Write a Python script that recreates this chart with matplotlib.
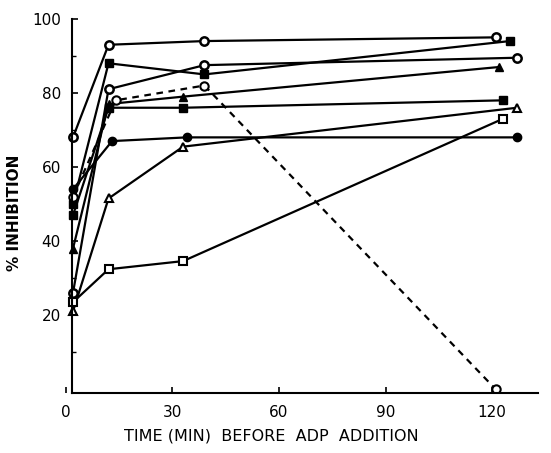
import matplotlib.pyplot as plt

# minutes before ADP addition / % inhibition, one list pair per curve
t_a = [2, 12, 39, 121]
v_a = [68, 93, 94, 95]
t_b = [2, 12, 39, 125]
v_b = [50, 88, 85, 94]
t_c = [2, 12, 39, 127]
v_c = [26, 81, 87.5, 89.5]
t_d = [2, 12, 33, 122]
v_d = [38, 77, 79, 87]
t_e = [2, 12, 33, 123]
v_e = [47, 76, 76, 78]
t_f = [2, 12, 33, 127]
v_f = [21, 51.5, 65.5, 76]
t_g = [2, 13, 34, 127]
v_g = [54, 67, 68, 68]
t_h = [2, 12, 33, 123]
v_h = [23.5, 32.4, 34.6, 73]
t_i = [2, 14, 39, 121]
v_i = [52, 78, 82, 0]

xticks = [0, 30, 60, 90, 120]
yticks = [20, 40, 60, 80, 100]

fig = plt.figure(figsize=(5.51, 4.53), dpi=100)
ax = fig.add_axes([0.097, 0.1325, 0.88, 0.83])

lw = 1.6
ms = 6
ax.plot(t_a, v_a, '-o', color='black', lw=lw, ms=ms, mfc='white', mew=1.8)
ax.plot(t_b, v_b, '-s', color='black', lw=lw, ms=ms, mfc='black')
ax.plot(t_c, v_c, '-o', color='black', lw=lw, ms=ms, mfc='white', mew=1.8)
ax.plot(t_d, v_d, '-^', color='black', lw=lw, ms=ms, mfc='black')
ax.plot(t_e, v_e, '-s', color='black', lw=lw, ms=ms, mfc='black')
ax.plot(t_f, v_f, '-^', color='black', lw=lw, ms=ms, mfc='white', mew=1.5)
ax.plot(t_g, v_g, '-o', color='black', lw=lw, ms=ms, mfc='black')
ax.plot(t_h, v_h, '-s', color='black', lw=lw, ms=ms, mfc='white', mew=1.5)
ax.plot(t_i, v_i, '--o', color='black', lw=lw, ms=ms, mfc='white', mew=1.5,
        dashes=(3, 2.5))

ax.set_xlim(-3.5, 133)
ax.set_ylim(-1, 100.5)
ax.spines['top'].set_visible(False)
ax.spines['right'].set_visible(False)
ax.spines['left'].set_position(('data', 1.7))
ax.spines['left'].set_bounds(-1, 100)
ax.spines['bottom'].set_bounds(1.7, 133)
for s in ['left', 'bottom']:
    ax.spines[s].set_linewidth(1.5)

ax.set_xticks(xticks)
ax.set_xticklabels([str(x) for x in xticks], fontsize=11)
ax.set_yticks(yticks)
ax.set_yticklabels([str(y) for y in yticks], fontsize=11)
ax.set_yticks(range(10, 101, 10), minor=True)
ax.tick_params(direction='in', length=4, width=1.2, pad=8)
ax.tick_params(axis='y', which='minor', direction='in', length=3, width=1)
ax.tick_params(axis='x', pad=9)

ax.set_xlabel('TIME (MIN)  BEFORE  ADP  ADDITION', fontsize=11.5)
ax.xaxis.set_label_coords(0.45, -0.095)
ax.set_ylabel('% INHIBITION', fontsize=11, fontweight='bold')
ax.yaxis.set_label_coords(-0.065, 0.48)

fig.savefig('out.png', dpi=100)
